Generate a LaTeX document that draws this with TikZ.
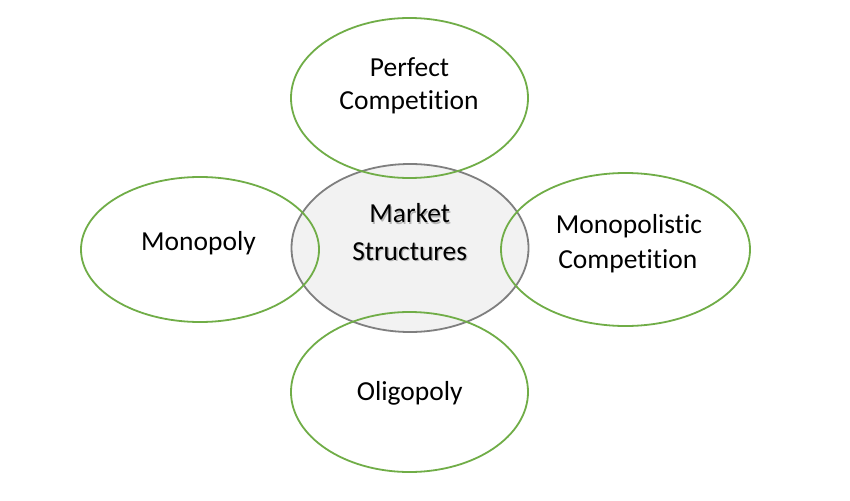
\documentclass[tikz,border=0pt]{standalone}
\usepackage{fontspec}
\setmainfont{Carlito}[Ligatures=NoCommon]
\usetikzlibrary{shapes.geometric}
\definecolor{ogreen}{HTML}{70AD47}
\definecolor{ogray}{HTML}{7F7F7F}
\definecolor{ofill}{HTML}{F2F2F2}
\tikzset{
  greenell/.style={ellipse, draw=ogreen, line width=1.8pt, inner sep=0pt},
  centerell/.style={ellipse, draw=ogray, fill=ofill, line width=1.8pt, inner sep=0pt},
  lbl/.style={anchor=base, inner sep=0pt, font=\fontsize{27.5}{33}\selectfont, text=black},
  shadowlbl/.style={lbl, text=black, opacity=0.25}
}
\begin{document}
\begin{tikzpicture}[x=1pt,y=-1pt]
\useasboundingbox[fill=white] (0,0) rectangle (850,500);
% centre ellipse
\node[centerell, minimum width=237pt, minimum height=168pt] (ms) at (410,248) {};
% outer ellipses
\node[greenell, minimum width=237pt, minimum height=160pt] (pc) at (409.5,98) {};
\node[greenell, minimum width=238pt, minimum height=145pt] (mo) at (200,249.5) {};
\node[greenell, minimum width=249pt, minimum height=153pt] (mc) at (625.5,249.5) {};
\node[greenell, minimum width=237pt, minimum height=160pt] (ol) at (409.5,392) {};
% labels
\node[lbl] (pc1) at (409.5,76.7) {Perfect};
\node[lbl] (pc2) at (409,110) {Competition};
\node[shadowlbl] (ms1s) at (411,224) {Market};
\node[shadowlbl] (ms2s) at (411,261.5) {Structures};
\node[lbl] (ms1) at (409.7,222.7) {Market};
\node[lbl] (ms2) at (409.7,260) {Structures};
\node[lbl] (mo1) at (198.5,250) {Monopoly};
\node[lbl] (mc1) at (629,233.3) {Monopolistic};
\node[lbl] (mc2) at (627.8,268.3) {Competition};
\node[lbl] (ol1) at (409.8,400) {Oligopoly};
\end{tikzpicture}
\end{document}
